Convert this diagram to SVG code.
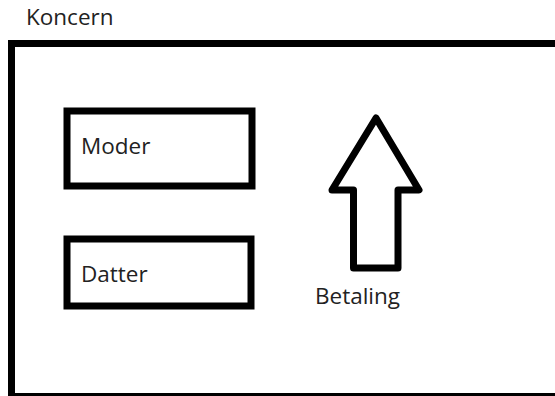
<svg xmlns="http://www.w3.org/2000/svg" width="555" height="396" viewBox="0 0 555 396">
<style>
.box{fill:#fff;stroke:#000;stroke-width:7}
.lbl{font-family:"Open Sans","Noto Sans",sans-serif;font-size:22.5px;fill:#222}
</style>
<rect width="555" height="396" fill="#fff"/>
<g id="koncern">
<rect class="box" x="11.5" y="43.5" width="560" height="353"/>
<text class="lbl" x="26" y="25">Koncern</text>
</g>
<g id="moder">
<rect class="box" x="67" y="111" width="185" height="75"/>
<text class="lbl" x="81" y="154">Moder</text>
</g>
<g id="datter">
<rect class="box" x="67" y="239" width="184" height="67"/>
<text class="lbl" x="81" y="282">Datter</text>
</g>
<g id="connectors">
<polygon class="box" stroke-linejoin="round" points="376,118 419,190 398,190 398,268 353.5,268 353.5,190 332,190"/>
<text class="lbl" x="315" y="304">Betaling</text>
</g>
</svg>
